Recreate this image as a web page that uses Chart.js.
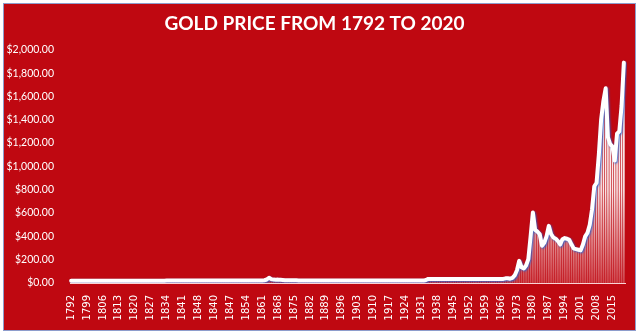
<!DOCTYPE html>
<html>
<head>
<meta charset="utf-8">
<script src="https://cdn.jsdelivr.net/npm/chart.js@4.4.1/dist/chart.umd.min.js"></script>
<style>
    html, body { margin: 0; padding: 0; background: #ffffff; }
    #wrap { width: 640px; height: 335px; }
</style>
</head>
<body>
<div id="wrap"><canvas id="gold" width="640" height="335"></canvas></div>
<script>
// the sheet's year column runs 1792-1848, then restarts at 1834 and runs to 2020
const yearRuns = [
    [1792, 1848],
    [1834, 2020],
]

// prices, USD per ounce
const price1792to1833 = [
    19.39, 19.39, 19.39, 19.39, 19.39, 19.39, 19.39, 19.39, 19.39, 19.39,
    19.39, 19.39, 19.39, 19.39, 19.39, 19.39, 19.39, 19.39, 19.39, 19.39,
    19.39, 19.39, 19.39, 19.39, 19.39, 19.39, 19.39, 19.39, 19.39, 19.39,
    19.39, 19.39, 19.39, 19.39, 19.39, 19.39, 19.39, 19.39, 19.39, 19.39,
    19.39, 19.39,
]
const price1834to1848 = [
    20.67, 20.67, 20.67, 20.67, 20.67, 20.67, 20.67, 20.67, 20.67, 20.67,
    20.67, 20.67, 20.67, 20.67, 20.67,
]
const price1849to1861 = [
    20.67, 20.67, 20.67, 20.67, 20.67, 20.67, 20.67, 20.67, 20.67, 20.67,
    20.67, 20.67, 20.67,
]
const price1862to1878 = [
    23.5, 30, 45, 33, 29, 28, 29, 27, 25, 23, 23, 23, 23, 24, 23, 22, 21,
]
const price1879to1933 = [
    20.67, 20.67, 20.67, 20.67, 20.67, 20.67, 20.67, 20.67, 20.67, 20.67,
    20.67, 20.67, 20.67, 20.67, 20.67, 20.67, 20.67, 20.67, 20.67, 20.67,
    20.67, 20.67, 20.67, 20.67, 20.67, 20.67, 20.67, 20.67, 20.67, 20.67,
    20.67, 20.67, 20.67, 20.67, 20.67, 20.67, 20.67, 20.67, 20.67, 20.67,
    20.67, 20.67, 20.67, 20.67, 20.67, 20.67, 20.67, 20.67, 20.67, 20.67,
    20.67, 20.67, 20.67, 20.67, 26,
]
const price1934to1967 = [
    35, 35, 35, 35, 35, 35, 35, 35, 35, 35,
    35, 35, 35, 35, 35, 35, 35, 35, 35, 35,
    35, 35, 35, 35, 35, 35, 35, 35, 35, 35,
    35, 35, 35, 35,
]
const price1968to2020 = [
    40, 41, 37, 44, 65, 110, 190, 135, 125, 150,
    205, 400, 605, 455, 440, 420, 320, 345, 400, 490,
    420, 390, 380, 360, 330, 375, 385, 380, 370, 330,
    295, 290, 285, 280, 330, 400, 430, 500, 630, 830,
    860, 1100, 1400, 1560, 1670, 1250, 1190, 1170, 1050, 1280,
    1300, 1520, 1890,
]

const yTicks = { min: 0, max: 2000, step: 200 }
const labelEvery = 7

const years = yearRuns.flatMap(([from, to]) =>
    Array.from({ length: to - from + 1 }, (_, i) => String(from + i))
)
const prices = [
    ...price1792to1833,
    ...price1834to1848,
    ...price1834to1848,
    ...price1849to1861,
    ...price1862to1878,
    ...price1879to1933,
    ...price1934to1967,
    ...price1968to2020,
]

const money = v =>
    "$" + v.toLocaleString("en-US", { minimumFractionDigits: 2, maximumFractionDigits: 2 })

const frame = {
    id: "frame",
    beforeDraw(chart) {
        const { ctx, width, height } = chart
        ctx.save()
        ctx.fillStyle = "#ffffff"
        ctx.fillRect(0, 0, width, height)
        ctx.fillStyle = "#bf0811"
        ctx.fillRect(4, 4, width - 9, height - 9)
        ctx.strokeStyle = "#8e9dcc"
        ctx.lineWidth = 1
        ctx.strokeRect(3.5, 3.5, width - 8, height - 8)
        ctx.restore()
    },
}

const lineShadow = {
    id: "lineShadow",
    beforeDatasetDraw(chart, { index }) {
        if (index !== 0) return
        const ctx = chart.ctx
        ctx.save()
        ctx.shadowColor = "rgba(40, 100, 210, 0.85)"
        ctx.shadowOffsetX = 1
        ctx.shadowOffsetY = 1
        ctx.shadowBlur = 2
    },
    afterDatasetDraw(chart, { index }) {
        if (index === 0) chart.ctx.restore()
    },
}

function barFill({ chart }) {
    const area = chart.chartArea
    if (!area) return "rgba(255,255,255,0.8)"
    const g = chart.ctx.createLinearGradient(0, area.top, 0, area.bottom)
    g.addColorStop(0, "rgba(255,255,255,1)")
    g.addColorStop(0.6, "rgba(255,255,255,0.9)")
    g.addColorStop(1, "rgba(255,255,255,0.25)")
    return g
}

const _ = new Chart(document.getElementById("gold"), {
    type: "bar",
    data: {
        labels: years,
        datasets: [
            {
                type: "line",
                label: "price",
                data: prices,
                borderColor: "#ffffff",
                borderWidth: 4,
                borderJoinStyle: "round",
                borderCapStyle: "round",
                pointRadius: 0,
                tension: 0,
                order: 0,
            },
            {
                label: "columns",
                data: prices,
                backgroundColor: barFill,
                borderWidth: 0,
                barPercentage: 0.72,
                categoryPercentage: 1,
                order: 1,
            },
        ],
    },
    plugins: [frame, lineShadow],
    options: {
        responsive: false,
        animation: false,
        layout: { padding: { left: 4, right: 15, top: 0, bottom: 6 } },
        plugins: {
            legend: { display: false },
            tooltip: { enabled: false },
            title: {
                display: true,
                text: "GOLD PRICE FROM 1792 TO 2020",
                color: "#ffffff",
                font: { family: "Lato", size: 19, weight: "bold" },
                padding: { top: 12, bottom: 15 },
            },
        },
        scales: {
            x: {
                grid: { display: false },
                border: { display: true, color: "rgba(255,235,235,0.9)", width: 1 },
                ticks: {
                    autoSkip: false,
                    maxRotation: 90,
                    minRotation: 90,
                    padding: 4,
                    color: "#ffffff",
                    font: { family: "DejaVu Sans", size: 10 },
                    callback: (v, i) => (i % labelEvery === 0 ? years[i] : ""),
                },
                afterFit: s => { s.height = 46 },
            },
            y: {
                min: yTicks.min,
                max: yTicks.max,
                grid: { display: false },
                border: { display: false },
                ticks: {
                    stepSize: yTicks.step,
                    padding: 8,
                    color: "#ffffff",
                    font: { family: "Lato", size: 10.5 },
                    callback: v => money(v),
                },
                afterFit: s => { s.width = 66 },
            },
        },
    },
})
</script>
</body>
</html>
